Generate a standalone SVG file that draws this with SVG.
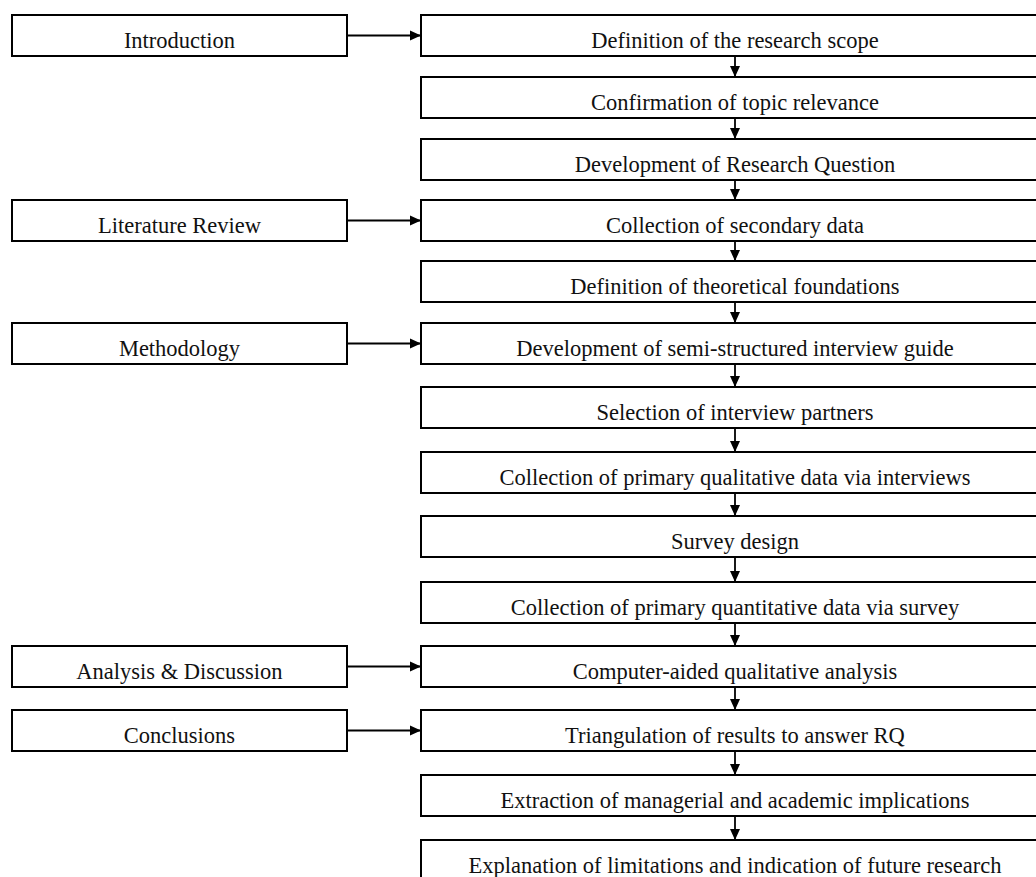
<svg xmlns="http://www.w3.org/2000/svg" width="1036" height="877" viewBox="0 0 1036 877">
<defs>
<marker id="ah" markerUnits="userSpaceOnUse" markerWidth="12" markerHeight="12" viewBox="0 0 12 12" refX="11" refY="6" orient="auto">
<path d="M0,1 L11,6 L0,11 Z" fill="#000"/>
</marker>
</defs>
<style>
.box{fill:#fff;stroke:#000;stroke-width:2}
.t{font-family:"Liberation Serif","Times New Roman",serif;font-size:22.5px;fill:#111;text-anchor:middle}
.c{stroke:#000;stroke-width:1.8;fill:none;marker-end:url(#ah)}
</style>
<rect width="1036" height="877" fill="#fff"/>
<g id="connectors">
<line class="c" x1="347" y1="35.5" x2="421" y2="35.5"/>
<line class="c" x1="347" y1="220.5" x2="421" y2="220.5"/>
<line class="c" x1="347" y1="343.5" x2="421" y2="343.5"/>
<line class="c" x1="347" y1="666.5" x2="421" y2="666.5"/>
<line class="c" x1="347" y1="730.5" x2="421" y2="730.5"/>
<line class="c" x1="735" y1="56" x2="735" y2="77"/>
<line class="c" x1="735" y1="118" x2="735" y2="139"/>
<line class="c" x1="735" y1="180" x2="735" y2="200"/>
<line class="c" x1="735" y1="241" x2="735" y2="261"/>
<line class="c" x1="735" y1="302" x2="735" y2="323"/>
<line class="c" x1="735" y1="364" x2="735" y2="387"/>
<line class="c" x1="735" y1="428" x2="735" y2="452"/>
<line class="c" x1="735" y1="493" x2="735" y2="516"/>
<line class="c" x1="735" y1="557" x2="735" y2="582"/>
<line class="c" x1="735" y1="623" x2="735" y2="646"/>
<line class="c" x1="735" y1="687" x2="735" y2="710"/>
<line class="c" x1="735" y1="751" x2="735" y2="775"/>
<line class="c" x1="735" y1="816" x2="735" y2="840"/>
</g>
<g id="introduction"><rect class="box" x="12" y="15" width="335" height="41"/><text class="t" x="179.5" y="48">Introduction</text></g>
<g id="literature-review"><rect class="box" x="12" y="200" width="335" height="41"/><text class="t" x="179.5" y="233">Literature Review</text></g>
<g id="methodology"><rect class="box" x="12" y="323" width="335" height="41"/><text class="t" x="179.5" y="356">Methodology</text></g>
<g id="analysis-discussion"><rect class="box" x="12" y="646" width="335" height="41"/><text class="t" x="179.5" y="679">Analysis &amp; Discussion</text></g>
<g id="conclusions"><rect class="box" x="12" y="710" width="335" height="41"/><text class="t" x="179.5" y="743">Conclusions</text></g>
<g id="s1"><rect class="box" x="421" y="15" width="640" height="41"/><text class="t" x="735" y="48">Definition of the research scope</text></g>
<g id="s2"><rect class="box" x="421" y="77" width="640" height="41"/><text class="t" x="735" y="110">Confirmation of topic relevance</text></g>
<g id="s3"><rect class="box" x="421" y="139" width="640" height="41"/><text class="t" x="735" y="172">Development of Research Question</text></g>
<g id="s4"><rect class="box" x="421" y="200" width="640" height="41"/><text class="t" x="735" y="233">Collection of secondary data</text></g>
<g id="s5"><rect class="box" x="421" y="261" width="640" height="41"/><text class="t" x="735" y="294">Definition of theoretical foundations</text></g>
<g id="s6"><rect class="box" x="421" y="323" width="640" height="41"/><text class="t" x="735" y="356">Development of semi-structured interview guide</text></g>
<g id="s7"><rect class="box" x="421" y="387" width="640" height="41"/><text class="t" x="735" y="420">Selection of interview partners</text></g>
<g id="s8"><rect class="box" x="421" y="452" width="640" height="41"/><text class="t" x="735" y="485">Collection of primary qualitative data via interviews</text></g>
<g id="s9"><rect class="box" x="421" y="516" width="640" height="41"/><text class="t" x="735" y="549">Survey design</text></g>
<g id="s10"><rect class="box" x="421" y="582" width="640" height="41"/><text class="t" x="735" y="615">Collection of primary quantitative data via survey</text></g>
<g id="s11"><rect class="box" x="421" y="646" width="640" height="41"/><text class="t" x="735" y="679">Computer-aided qualitative analysis</text></g>
<g id="s12"><rect class="box" x="421" y="710" width="640" height="41"/><text class="t" x="735" y="743">Triangulation of results to answer RQ</text></g>
<g id="s13"><rect class="box" x="421" y="775" width="640" height="41"/><text class="t" x="735" y="808">Extraction of managerial and academic implications</text></g>
<g id="s14"><rect class="box" x="421" y="840" width="640" height="60"/><text class="t" x="735" y="873">Explanation of limitations and indication of future research</text></g>
</svg>
